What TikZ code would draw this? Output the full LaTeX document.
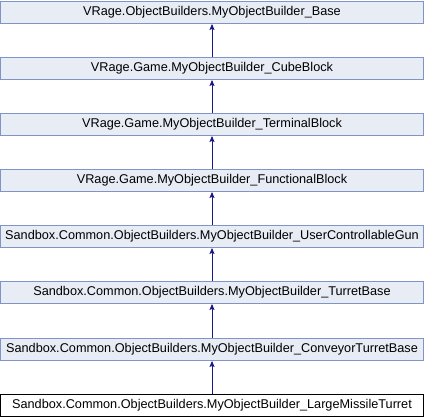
\documentclass[tikz,border=0pt]{standalone}
\usepackage{fontspec}
\setmainfont{Liberation Sans}
\usetikzlibrary{arrows.meta}
\definecolor{boxfill}{RGB}{232,236,245}
\definecolor{boxline}{RGB}{128,148,200}
\definecolor{edgecol}{RGB}{25,25,140}
\tikzset{
  cls/.style={draw=boxline, fill=boxfill, line width=0.9pt, minimum width=422.5pt, minimum height=22.5pt, inner sep=0pt, anchor=north, font=\fontsize{12.7}{15}\selectfont},
  clsmain/.style={cls, draw=black, fill=white},
  inh/.style={draw=edgecol, line width=1pt, -{Stealth[length=6pt,width=5pt,inset=1pt]}}
}
\begin{document}
\begin{tikzpicture}[x=1pt,y=-1pt]
\useasboundingbox (0,0) rectangle (424,416);
\node[cls] (n1) at (212,0.5) {VRage.ObjectBuilders.MyObjectBuilder\_Base};
\node[cls] (n2) at (212,56.5) {VRage.Game.MyObjectBuilder\_CubeBlock};
\node[cls] (n3) at (212,112.5) {VRage.Game.MyObjectBuilder\_TerminalBlock};
\node[cls] (n4) at (212,168.5) {VRage.Game.MyObjectBuilder\_FunctionalBlock};
\node[cls] (n5) at (212,224.5) {Sandbox.Common.ObjectBuilders.MyObjectBuilder\_UserControllableGun};
\node[cls] (n6) at (212,280.5) {Sandbox.Common.ObjectBuilders.MyObjectBuilder\_TurretBase};
\node[cls] (n7) at (212,337.5) {Sandbox.Common.ObjectBuilders.MyObjectBuilder\_ConveyorTurretBase};
\node[clsmain] (n8) at (212,393.5) {Sandbox.Common.ObjectBuilders.MyObjectBuilder\_LargeMissileTurret};
\draw[inh] (n2) -- (n1);
\draw[inh] (n3) -- (n2);
\draw[inh] (n4) -- (n3);
\draw[inh] (n5) -- (n4);
\draw[inh] (n6) -- (n5);
\draw[inh] (n7) -- (n6);
\draw[inh] (n8) -- (n7);
\end{tikzpicture}
\end{document}
